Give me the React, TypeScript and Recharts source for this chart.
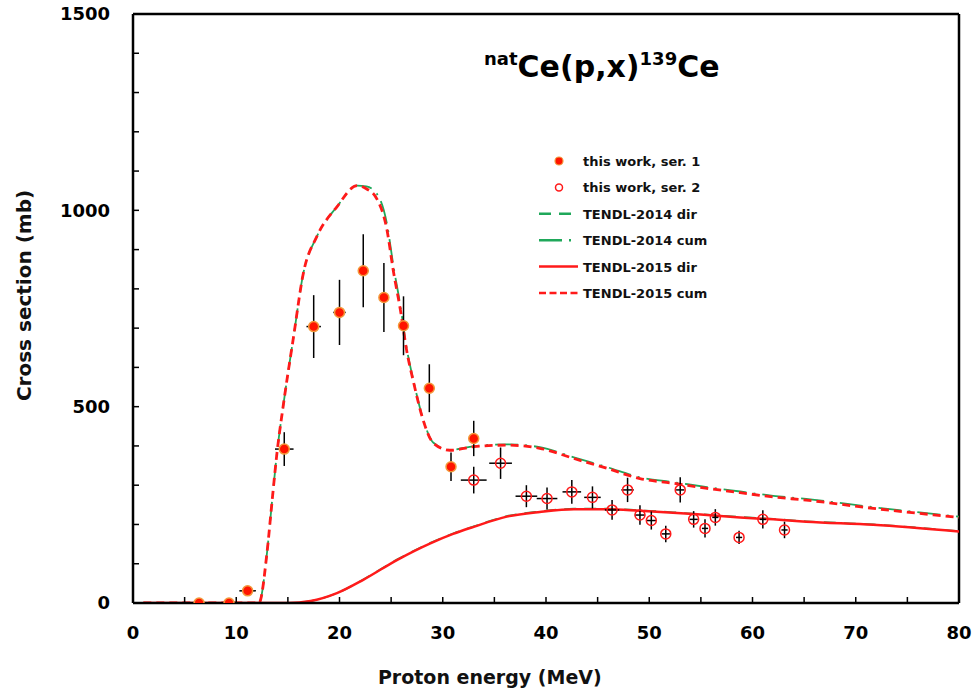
import React from 'react';
import {
  ComposedChart,
  Line,
  Scatter,
  XAxis,
  YAxis,
  ErrorBar,
  ReferenceLine,
  Legend,
} from 'recharts';

const FONT = '"DejaVu Sans", Verdana, sans-serif';
const RED = '#ff1a1a';
const GREEN = '#1fa85a';

// this work, ser. 1 (filled markers)
const ser1Energy = [6.4, 9.3, 11.1, 14.65, 17.5, 20.0, 22.3, 24.3, 26.2, 28.7, 30.8, 33.0];
const ser1Sigma = [0, 0, 31, 392, 704, 740, 846, 778, 706, 547, 347, 419];
const ser1EnergyErr = [0, 0, 0.8, 0.9, 0.7, 0.6, 0.5, 0.4, 0.4, 0.3, 0.3, 0.2];
const ser1SigmaErr = [0, 0, 4, 43, 80, 83, 93, 88, 75, 61, 36, 45];

// this work, ser. 2 (open markers)
const ser2Energy = [33.0, 35.6, 38.1, 40.1, 42.5, 44.5, 46.4, 47.9, 49.1, 50.2, 51.6, 53.0, 54.3, 55.4, 56.4, 58.7, 61.0, 63.1];
const ser2Sigma = [313, 356, 272, 266, 283, 269, 237, 288, 224, 210, 176, 288, 213, 190, 218, 167, 213, 186];
const ser2EnergyErr = [1.25, 1.1, 1.05, 1.0, 0.9, 0.8, 0.7, 0.6, 0.5, 0.5, 0.4, 0.4, 0.4, 0.3, 0.3, 0.3, 0.3, 0.3];
const ser2SigmaErr = [34, 40, 28, 28, 30, 28, 25, 31, 25, 23, 21, 32, 21, 23, 21, 17, 23, 21];

// TENDL cumulative curves
const cumEnergy = [1, 12.2, 12.97, 13.45, 13.94, 14.58, 15.55, 16.5, 17.8, 19.75, 21.7, 22.6, 23.6, 24.6, 25.2, 25.9, 26.5, 27.2, 28.1, 29.1, 30.7, 33, 36.2, 39.4, 42.7, 45.9, 49.1, 52.3, 55.6, 58.8, 62, 65.2, 71.7, 80];
const cum2015Sigma = [0, 0, 126, 254, 381, 508, 678, 840, 933, 1009, 1063, 1055, 1030, 950, 848, 746, 644, 559, 466, 407, 389, 398, 402, 394, 368, 343, 317, 305, 292, 281, 270, 262, 241, 218];
const cum2014Sigma = [0, 0, 126, 254, 381, 508, 678, 840, 933, 1009, 1063, 1061, 1043, 965, 862, 756, 650, 562, 468, 408, 390, 399, 404, 397, 371, 346, 320, 308, 295, 284, 273, 265, 244, 220];

// TENDL direct curves
const dirEnergy = [1, 15, 17.2, 19.75, 22.3, 25.6, 28.8, 31, 33, 36.2, 39.4, 42.7, 45.9, 49.1, 52.3, 55.6, 58.8, 62, 65.2, 71.7, 80];
const dir2015Sigma = [0, 0, 5, 25, 59, 110, 152, 176, 194, 220, 232, 239, 239, 235, 230, 224, 218, 213, 207, 199, 182];
const dir2014Sigma = [0, 0, 5, 25, 60, 111, 153, 177, 195, 221, 233, 240, 240, 236, 231, 225, 219, 214, 208, 200, 183];

const xTicks = Array.from({ length: 17 }, (_, i) => i * 5);
const yTicks = Array.from({ length: 16 }, (_, i) => i * 100);

const toCurve = (xs: number[], ys: number[]) => xs.map((e, i) => ({ e, v: ys[i] }));
const toPoints = (xs: number[], ys: number[], dx: number[], dy: number[]) =>
  xs.map((e, i) => ({ e, v: ys[i], dx: dx[i], dy: dy[i] }));

const ser1 = toPoints(ser1Energy, ser1Sigma, ser1EnergyErr, ser1SigmaErr);
const ser2 = toPoints(ser2Energy, ser2Sigma, ser2EnergyErr, ser2SigmaErr);
const cum2015 = toCurve(cumEnergy, cum2015Sigma);
const cum2014 = toCurve(cumEnergy, cum2014Sigma);
const dir2015 = toCurve(dirEnergy, dir2015Sigma);
const dir2014 = toCurve(dirEnergy, dir2014Sigma);

const tickStyle = { fontSize: 18, fontWeight: 'bold', fill: '#000', fontFamily: FONT };

const FilledDot = (p: any) => (
  <circle cx={p.cx} cy={p.cy} r={5} fill="#ff1400" stroke="#f39a3c" strokeWidth={1.5} />
);
const OpenDot = (p: any) => (
  <circle cx={p.cx} cy={p.cy} r={5} fill="none" stroke={RED} strokeWidth={1.5} />
);

const legendRows = [
  { label: 'this work, ser. 1', kind: 'filled' },
  { label: 'this work, ser. 2', kind: 'open' },
  { label: 'TENDL-2014 dir', kind: 'line', color: GREEN, dash: '12 8' },
  { label: 'TENDL-2014 cum', kind: 'line', color: GREEN, dash: '23 7 2 7' },
  { label: 'TENDL-2015 dir', kind: 'line', color: RED, dash: undefined },
  { label: 'TENDL-2015 cum', kind: 'line', color: RED, dash: '7 3.5' },
];

const LegendBox = () => (
  <svg width={200} height={160}>
    {legendRows.map((r, i) => {
      const cy = 14 + i * 26.4;
      return (
        <g key={r.label}>
          {r.kind === 'filled' && <circle cx={24} cy={cy} r={4} fill="#ff1400" stroke="#f39a3c" strokeWidth={1.2} />}
          {r.kind === 'open' && <circle cx={24} cy={cy} r={3.5} fill="none" stroke={RED} strokeWidth={1.5} />}
          {r.kind === 'line' && (
            <line x1={4} x2={43} y1={cy} y2={cy} stroke={r.color} strokeWidth={2.5} strokeDasharray={r.dash} />
          )}
          <text x={48} y={cy + 5} fontSize={13} fontWeight="bold" fontFamily={FONT} fill="#111">
            {r.label}
          </text>
        </g>
      );
    })}
  </svg>
);

const XTitle = (props: any) => {
  const { x, y, width } = props.viewBox;
  return (
    <text x={x + width * 0.432} y={y + 81} textAnchor="middle" fontSize={19} fontWeight="bold" fontFamily={FONT} fill="#111">
      Proton energy (MeV)
    </text>
  );
};

const YTitle = (props: any) => {
  const { x, y, height } = props.viewBox;
  const cx = x + 31;
  const cy = y + height / 2 - 13;
  return (
    <text x={cx} y={cy} transform={`rotate(-90 ${cx} ${cy})`} textAnchor="middle" fontSize={20} fontWeight="bold" fontFamily={FONT} fill="#111">
      Cross section (mb)
    </text>
  );
};

export default function App() {
  return (
    <div style={{ position: 'absolute', left: 0, top: 0, width: 977, height: 692, background: '#fff' }}>
      <ComposedChart width={977} height={692} margin={{ top: 14, right: 18, bottom: 0, left: 0 }}>
        <XAxis
          type="number"
          dataKey="e"
          domain={[0, 80]}
          ticks={xTicks}
          interval={0}
          allowDataOverflow
          height={89}
          tickFormatter={(v: number) => (v % 10 === 0 ? String(v) : '')}
          tick={tickStyle}
          tickSize={-6}
          tickMargin={29}
          tickLine={{ stroke: '#000', strokeWidth: 1.5 }}
          axisLine={{ stroke: '#000', strokeWidth: 2.5 }}
          label={<XTitle />}
        />
        <YAxis
          type="number"
          dataKey="v"
          domain={[0, 1500]}
          ticks={yTicks}
          interval={0}
          allowDataOverflow
          width={133}
          tickFormatter={(v: number) => (v % 500 === 0 ? String(v) : '')}
          tick={tickStyle}
          tickSize={-6}
          tickMargin={29}
          tickLine={{ stroke: '#000', strokeWidth: 1.5 }}
          axisLine={{ stroke: '#000', strokeWidth: 2.5 }}
          label={<YTitle />}
        />
        <ReferenceLine y={1500} stroke="#000" strokeWidth={2.5} />
        <ReferenceLine x={80} stroke="#000" strokeWidth={2.5} />

        <Line data={dir2014} dataKey="v" type="monotone" stroke={GREEN} strokeWidth={1.8} strokeDasharray="12 8" dot={false} isAnimationActive={false} />
        <Line data={cum2014} dataKey="v" type="monotone" stroke={GREEN} strokeWidth={1.8} strokeDasharray="23 7 2 7" dot={false} isAnimationActive={false} />
        <Line data={dir2015} dataKey="v" type="monotone" stroke={RED} strokeWidth={2.5} dot={false} isAnimationActive={false} />
        <Line data={cum2015} dataKey="v" type="monotone" stroke={RED} strokeWidth={2.8} strokeDasharray="8 5" dot={false} isAnimationActive={false} />

        <Scatter data={ser2} dataKey="v" shape={OpenDot} isAnimationActive={false}>
          <ErrorBar dataKey="dy" direction="y" width={0} stroke="#000" strokeWidth={1.5} />
          <ErrorBar dataKey="dx" direction="x" width={0} stroke="#000" strokeWidth={1.5} />
        </Scatter>
        <Scatter data={ser1} dataKey="v" shape={FilledDot} isAnimationActive={false}>
          <ErrorBar dataKey="dy" direction="y" width={0} stroke="#000" strokeWidth={1.5} />
          <ErrorBar dataKey="dx" direction="x" width={0} stroke="#000" strokeWidth={1.5} />
        </Scatter>

        <Legend
          layout="horizontal"
          align="center"
          verticalAlign="middle"
          content={<LegendBox />}
          wrapperStyle={{ left: 535, top: 147, width: 200 }}
        />
      </ComposedChart>
      <div
        style={{
          position: 'absolute',
          left: 484,
          top: 47,
          fontFamily: FONT,
          fontWeight: 'bold',
          fontSize: 30,
          color: '#000',
          whiteSpace: 'nowrap',
          lineHeight: '40px',
        }}
      >
        <span style={{ fontSize: 18, position: 'relative', top: -12 }}>nat</span>
        Ce(p,x)
        <span style={{ fontSize: 18, position: 'relative', top: -12 }}>139</span>
        Ce
      </div>
    </div>
  );
}
